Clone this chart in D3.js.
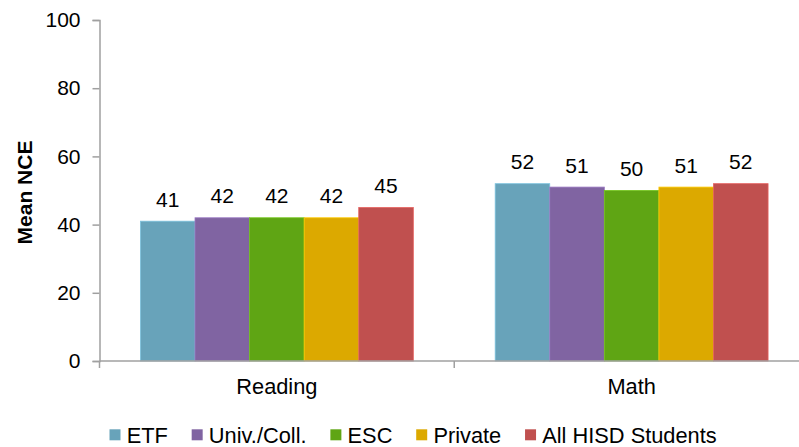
<!DOCTYPE html>
<html>
<head>
<meta charset="utf-8">
<script src="https://cdn.jsdelivr.net/npm/d3@7/dist/d3.min.js"></script>
<style>
  html, body { margin: 0; padding: 0; background: #fff; }
  svg { display: block; font-family: "Liberation Sans", Arial, sans-serif; }
</style>
</head>
<body>
<svg id="chart" width="799" height="447"></svg>
<script>
// Subjects on the category axis
const subjects = ["Reading", "Math"];
// Training source groups (one bar per group in each subject)
const groups = ["ETF", "Univ./Coll.", "ESC", "Private", "All HISD Students"];
const groupColors = ["#68A3BA", "#8064A2", "#5FA514", "#DCA900", "#C0504F"];
// Mean NCE per group, in subject order
const etfValues = [41, 52];
const univValues = [42, 51];
const escValues = [42, 50];
const privateValues = [42, 51];
const allHisdValues = [45, 52];
const yTicks = [0, 20, 40, 60, 80, 100];
const yTitle = "Mean NCE";

const seriesValues = [etfValues, univValues, escValues, privateValues, allHisdValues];

const svg = d3.select("#chart");
const plotLeft = 99.5, plotRight = 809, plotTop = 20, plotBottom = 361;
const fontSize = 21;
const legendFontSize = 21.8;
const axisColor = "#A0A0A0";

const y = d3.scaleLinear().domain([0, 100]).range([plotBottom, plotTop]);
const x0 = d3.scaleBand().domain(subjects).range([plotLeft, plotRight]).paddingInner(0).paddingOuter(0);
const x1 = d3.scaleBand().domain(groups).range([0, x0.bandwidth()]).paddingInner(0).paddingOuter(0.75);
const color = d3.scaleOrdinal().domain(groups).range(groupColors);

// Y axis
const yAxis = svg.append("g")
  .attr("transform", `translate(${plotLeft},0)`)
  .call(d3.axisLeft(y).tickValues(yTicks).tickSize(7).tickPadding(12));
yAxis.select(".domain").attr("stroke", axisColor).attr("stroke-width", 1.5);
yAxis.selectAll(".tick line").attr("stroke", axisColor).attr("stroke-width", 1.5);
yAxis.selectAll(".tick text")
  .attr("font-size", fontSize).attr("fill", "#000")
  .attr("font-family", "Liberation Sans, Arial, sans-serif");

// Bars
const rows = [];
subjects.forEach((s, i) => groups.forEach((g, j) => rows.push({ subject: s, group: g, value: seriesValues[j][i] })));

svg.append("g").selectAll("rect")
  .data(rows)
  .join("rect")
  .attr("x", d => x0(d.subject) + x1(d.group))
  .attr("y", d => y(d.value))
  .attr("width", x1.bandwidth())
  .attr("height", d => y(0) - y(d.value))
  .attr("fill", d => color(d.group))
  .attr("stroke", d => d3.color(color(d.group)).brighter(0.5))
  .attr("stroke-width", 0.8);

// Value labels
svg.append("g").selectAll("text")
  .data(rows)
  .join("text")
  .attr("x", d => x0(d.subject) + x1(d.group) + x1.bandwidth() / 2)
  .attr("y", d => y(d.value) - 14.5)
  .attr("text-anchor", "middle")
  .attr("font-size", fontSize)
  .attr("fill", "#000")
  .text(d => d.value);

// X axis: baseline, boundary ticks and subject labels
const xAxis = svg.append("g").attr("transform", `translate(0,${plotBottom})`);
xAxis.append("line")
  .attr("x1", plotLeft).attr("x2", plotRight)
  .attr("stroke", axisColor).attr("stroke-width", 1.5);
const bounds = subjects.map(s => x0(s)).concat([x0.range()[1]]);
xAxis.selectAll("line.bound")
  .data(bounds)
  .join("line")
  .attr("class", "bound")
  .attr("x1", d => d).attr("x2", d => d)
  .attr("y1", 0).attr("y2", 7)
  .attr("stroke", axisColor).attr("stroke-width", 1.5);
xAxis.selectAll("text.cat")
  .data(subjects)
  .join("text")
  .attr("class", "cat")
  .attr("x", d => x0(d) + x0.bandwidth() / 2)
  .attr("y", 33.3)
  .attr("text-anchor", "middle")
  .attr("font-size", legendFontSize)
  .attr("fill", "#000")
  .text(d => d);

// Y axis title
svg.append("text")
  .attr("transform", `translate(32,${(plotTop + plotBottom) / 2 + 2}) rotate(-90)`)
  .attr("text-anchor", "middle")
  .attr("font-size", fontSize)
  .attr("font-weight", "bold")
  .attr("fill", "#000")
  .text(yTitle);

// Legend
const legend = svg.append("g");
let lx = 109.5;
const legendBaseline = 442.7;
groups.forEach(g => {
  legend.append("rect")
    .attr("x", lx).attr("y", 429.3)
    .attr("width", 11).attr("height", 11)
    .attr("fill", color(g));
  const t = legend.append("text")
    .attr("x", lx + 17.2)
    .attr("y", legendBaseline)
    .attr("font-size", legendFontSize)
    .attr("fill", "#000")
    .text(g);
  lx += 17.2 + t.node().getComputedTextLength() + 23.8;
});
</script>
</body>
</html>
